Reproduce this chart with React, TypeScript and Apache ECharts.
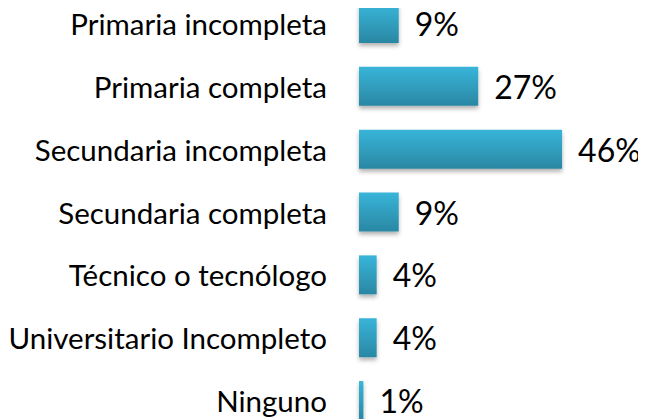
import React, { useEffect, useRef } from "react";
import * as echarts from "echarts";

const categories = [
  "Primaria incompleta",
  "Primaria completa",
  "Secundaria incompleta",
  "Secundaria completa",
  "Técnico o tecnólogo",
  "Universitario Incompleto",
  "Ninguno",
];
const values = [9, 27, 46, 9, 4, 4, 1];

export default function App() {
  const ref = useRef<HTMLDivElement>(null);
  useEffect(() => {
    if (!ref.current) return;
    const chart = echarts.init(ref.current, null, { renderer: "svg" });
    chart.setOption({
      animation: false,
      grid: { left: 359, right: 0, top: 0, bottom: 0, containLabel: false },
      xAxis: { type: "value", min: 0, max: 65, show: false },
      yAxis: {
        type: "category",
        data: categories,
        inverse: true,
        axisLine: { show: false },
        axisTick: { show: false },
        axisLabel: {
          margin: 32,
          fontFamily: "Lato",
          fontSize: 29.5,
          color: "#000",
        },
      },
      series: [
        {
          type: "bar",
          data: values,
          barCategoryGap: "38%",
          itemStyle: {
            color: new echarts.graphic.LinearGradient(0, 0, 0, 1, [
              { offset: 0, color: "#38b5d9" },
              { offset: 1, color: "#2a87a3" },
            ]),
            shadowColor: "rgba(0,0,0,0.3)",
            shadowBlur: 4,
            shadowOffsetY: 3,
          },
          label: {
            show: true,
            position: "right",
            distance: 16,
            formatter: "{c}%",
            fontFamily: "Lato",
            fontSize: 32,
            color: "#000",
          },
        },
      ],
    });
    return () => chart.dispose();
  }, []);
  return (
    <div
      ref={ref}
      style={{ width: 646, height: 440, margin: "-16px 0 0 -8px" }}
    />
  );
}
